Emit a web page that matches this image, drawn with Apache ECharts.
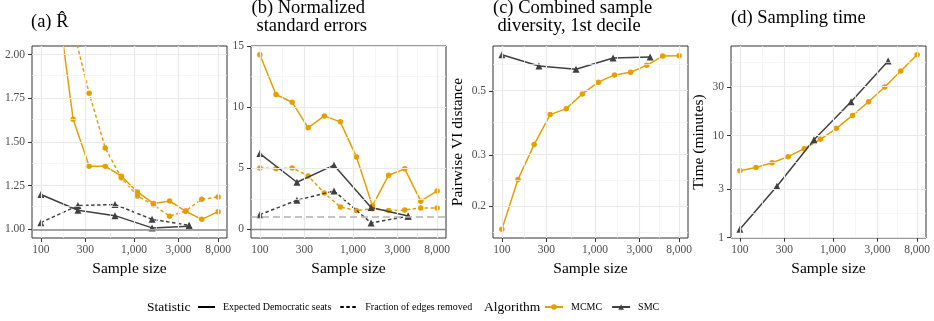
<!DOCTYPE html>
<html><head><meta charset="utf-8">
<script src="https://cdn.jsdelivr.net/npm/echarts@6/dist/echarts.min.js"></script>
<style>html,body{margin:0;padding:0;background:#fff}#c{width:934px;height:321px}</style>
</head><body><div id="c"></div>
<script>
// ---------- data ----------
const mcmcN = [100, 149, 222, 330, 491, 731, 1088, 1619, 2410, 3587, 5338, 8000];
const smcN = [100, 250, 625, 1563, 3906];
const xTicks = [100, 300, 1000, 3000, 8000];

// (a) R-hat
const rhatMcmcSeats = [3.4, 2.33, 1.631, 1.361, 1.361, 1.304, 1.214, 1.147, 1.162, 1.103, 1.057, 1.101];
const rhatMcmcEdges = [3.9, 2.9, 2.15, 1.779, 1.466, 1.295, 1.191, 1.14, 1.075, 1.105, 1.172, 1.185];
const rhatSmcSeats = [1.199, 1.109, 1.078, 1.008, 1.017];
const rhatSmcEdges = [1.038, 1.136, 1.142, 1.057, 1.023];
const rhatTicks = [1.00, 1.25, 1.50, 1.75, 2.00];

// (b) normalized standard errors
const seMcmcSeats = [14.3, 11.04, 10.41, 8.31, 9.29, 8.8, 5.93, 1.91, 4.43, 4.95, 2.30, 3.14];
const seMcmcEdges = [5.03, 4.95, 5.03, 4.37, 2.98, 1.83, 1.53, 1.69, 1.53, 1.58, 1.75, 1.75];
const seSmcSeats = [6.2, 3.85, 5.25, 1.78, 1.09];
const seSmcEdges = [1.2, 2.38, 3.14, 0.52, 1.07];
const seTicks = [0, 5, 10, 15];

// (c) combined sample diversity, 1st decile
const divMcmc = [0.166, 0.247, 0.326, 0.414, 0.434, 0.488, 0.536, 0.568, 0.580, 0.613, 0.660, 0.662];
const divSmc = [0.667, 0.610, 0.594, 0.650, 0.655];
const divTicks = [0.2, 0.3, 0.5];

// (d) sampling time (minutes)
const timeMcmc = [4.54, 4.89, 5.44, 6.23, 7.46, 9.21, 11.8, 15.8, 21.5, 30.0, 43.0, 62.2];
const timeSmc = [1.21, 3.19, 9.14, 21.5, 54.0];
const timeTicks = [1, 3, 10, 30];

// ---------- helpers ----------
const L = Math.log10;
const FONT = "'Liberation Serif','Times New Roman',serif";
const ORANGE = '#E69F00', DARK = '#404040';
const DASH = [3.5, 2.5];
function expand(lo, hi) { const s = hi - lo; return [lo - 0.05 * s, hi + 0.05 * s]; }
function minorBreaks(maj, lim) {
  const b = maj.slice(); const bd = b[1] - b[0];
  if (lim[0] < b[0]) b.unshift(b[0] - bd);
  if (lim[1] > b[b.length - 1]) b.push(b[b.length - 1] + bd);
  const out = [];
  for (let i = 0; i < b.length - 1; i++) { const m = (b[i] + b[i + 1]) / 2; if (m > lim[0] && m < lim[1]) out.push(m); }
  return out;
}
const xLim = expand(L(mcmcN[0]), L(mcmcN[mcmcN.length - 1]));
const xMaj = xTicks.map(L);
const xMin = minorBreaks(xMaj, xLim);
const xFmt = v => Math.round(Math.pow(10, v)).toLocaleString('en-US');

const panels = [
  { left: 32, log: false, lim: [0.95, 2.05], ticks: rhatTicks, fmt: v => v.toFixed(2), name: '',
    lines: [['MCMC', mcmcN, rhatMcmcSeats, false], ['MCMC', mcmcN, rhatMcmcEdges, true],
            ['SMC', smcN, rhatSmcSeats, false], ['SMC', smcN, rhatSmcEdges, true]],
    refs: [{ y: 1, color: '#8a8a8a', width: 1.6, type: 'solid' }] },
  { left: 251, log: false, lim: expand(0, Math.max(...seMcmcSeats)), ticks: seTicks, fmt: v => String(v), name: '',
    lines: [['MCMC', mcmcN, seMcmcSeats, false], ['MCMC', mcmcN, seMcmcEdges, true],
            ['SMC', smcN, seSmcSeats, false], ['SMC', smcN, seSmcEdges, true]],
    refs: [{ y: 0, color: '#8a8a8a', width: 1.3, type: 'solid' }, { y: 1, color: '#b3b3b3', width: 1.5, type: [7, 4] }] },
  { left: 493, log: true, lim: expand(L(Math.min(...divMcmc, ...divSmc)), L(Math.max(...divMcmc, ...divSmc))), ticks: divTicks,
    fmt: v => String(Math.round(Math.pow(10, v) * 10) / 10), name: 'Pairwise VI distance', nameGap: 27,
    lines: [['MCMC', mcmcN, divMcmc, false], ['SMC', smcN, divSmc, false]], refs: [] },
  { left: 731, log: true, lim: expand(L(Math.min(...timeMcmc, ...timeSmc)), L(Math.max(...timeMcmc, ...timeSmc))), ticks: timeTicks,
    fmt: v => String(Math.round(Math.pow(10, v))), name: 'Time (minutes)', nameGap: 24,
    lines: [['MCMC', mcmcN, timeMcmc, false], ['SMC', smcN, timeSmc, false]], refs: [] }
];

const grids = [], xAxes = [], yAxes = [], series = [];
const MAJ = { color: '#e9e9e9', width: 1.2, type: 'solid' };
const MIN = { color: '#f2f2f2', width: 0.7, type: 'solid' };
const tickStyle = { show: true, length: 4, lineStyle: { color: '#333', width: 1 } };

panels.forEach((p, i) => {
  const ty = p.log ? L : (v => v);
  const yMaj = p.ticks.map(ty);
  const yMin = minorBreaks(yMaj, p.lim);
  grids.push({ left: p.left, top: 46, width: 195, height: 192, show: true, borderColor: '#333', borderWidth: 1, backgroundColor: '#fff' });
  xAxes.push({ type: 'value', gridIndex: i, min: xLim[0], max: xLim[1],
    splitLine: { show: false }, axisLine: { show: false },
    axisTick: Object.assign({ customValues: xMaj }, tickStyle),
    axisLabel: { customValues: xMaj, formatter: xFmt, fontFamily: FONT, fontSize: 11.5, color: '#4d4d4d', margin: 6 },
    name: 'Sample size', nameLocation: 'middle', nameGap: 19,
    nameTextStyle: { fontFamily: FONT, fontSize: 15.5, color: '#000' } });
  yAxes.push({ type: 'value', gridIndex: i, min: p.lim[0], max: p.lim[1],
    splitLine: { show: false }, axisLine: { show: false },
    axisTick: Object.assign({ customValues: yMaj }, tickStyle),
    axisLabel: { customValues: yMaj, formatter: p.fmt, fontFamily: FONT, fontSize: 11.5, color: '#4d4d4d', margin: 7 },
    name: p.name, nameLocation: 'middle', nameGap: p.nameGap || 20,
    nameTextStyle: { fontFamily: FONT, fontSize: 15.5, color: '#000' } });
  // panel grid lines
  series.push({ type: 'line', xAxisIndex: i, yAxisIndex: i, data: [], symbol: 'none', silent: true, z: 1, animation: false,
    markLine: { silent: true, symbol: ['none', 'none'], label: { show: false }, animation: false,
      data: [].concat(
        xMin.map(v => ({ xAxis: v, lineStyle: MIN })), yMin.map(v => ({ yAxis: v, lineStyle: MIN })),
        xMaj.map(v => ({ xAxis: v, lineStyle: MAJ })), yMaj.map(v => ({ yAxis: v, lineStyle: MAJ }))) } });
  if (p.refs.length) {
    series.push({ type: 'line', xAxisIndex: i, yAxisIndex: i, data: [], symbol: 'none', silent: true, z: 2, animation: false,
      markLine: { silent: true, symbol: ['none', 'none'], label: { show: false }, animation: false,
        data: p.refs.map(r => ({ yAxis: r.y, lineStyle: { color: r.color, width: r.width, type: r.type } })) } });
  }
  p.lines.forEach(([algo, xs, ys, dashed]) => {
    const col = algo === 'MCMC' ? ORANGE : DARK;
    series.push({ type: 'line', name: algo, xAxisIndex: i, yAxisIndex: i,
      data: xs.map((x, k) => [L(x), ty(ys[k])]),
      symbol: algo === 'MCMC' ? 'circle' : 'triangle', symbolSize: algo === 'MCMC' ? 5.5 : 7,
      lineStyle: { color: col, width: 1.5, type: dashed ? DASH : 'solid' },
      itemStyle: { color: col }, z: algo === 'MCMC' ? 3 : 4, clip: true, animation: false, silent: true });
  });
});
// legend-only series for line type
series.push({ type: 'line', name: 'Expected Democratic seats', xAxisIndex: 0, yAxisIndex: 0, data: [], symbol: 'none',
  lineStyle: { color: '#000', width: 1.5, type: 'solid' }, itemStyle: { color: '#000' } });
series.push({ type: 'line', name: 'Fraction of edges removed', xAxisIndex: 0, yAxisIndex: 0, data: [], symbol: 'none',
  lineStyle: { color: '#000', width: 1.5, type: DASH }, itemStyle: { color: '#000' } });

const TT = { fontFamily: FONT, fontSize: 18.5, fontWeight: 'normal', color: '#000' };
const LT = { fontFamily: FONT, fontSize: 13.5, fontWeight: 'normal', color: '#000' };
const legText = { fontFamily: FONT, fontSize: 10, color: '#000', padding: [0, 0, 0, 3] };

const option = {
  animation: false,
  backgroundColor: '#fff',
  title: [
    { text: '(a) R\u0302', left: 31, top: 13, padding: 0, textStyle: TT },
    { text: '(b) Normalized', left: 251.5, top: -1.5, padding: 0, textStyle: TT },
    { text: 'standard errors', left: 256.5, top: 17, padding: 0, textStyle: TT },
    { text: '(c) Combined sample', left: 493, top: -1.5, padding: 0, textStyle: TT },
    { text: 'diversity, 1st decile', left: 497.5, top: 17, padding: 0, textStyle: TT },
    { text: '(d) Sampling time', left: 731, top: 9, padding: 0, textStyle: TT },
    { text: 'Statistic', left: 147, top: 300, padding: 0, textStyle: LT },
    { text: 'Algorithm', left: 484, top: 300, padding: 0, textStyle: LT }
  ],
  legend: [
    { left: 197, top: 302, padding: 0, itemWidth: 17, itemHeight: 8, itemGap: 8, selectedMode: false,
      data: ['Expected Democratic seats', 'Fraction of edges removed'], textStyle: legText, itemStyle: { opacity: 0 } },
    { left: 544, top: 302, padding: 0, itemWidth: 18, itemHeight: 7, itemGap: 9, selectedMode: false,
      data: ['MCMC', 'SMC'], textStyle: legText }
  ],
  grid: grids, xAxis: xAxes, yAxis: yAxes, series: series
};
const chart = echarts.init(document.getElementById('c'));
chart.setOption(option);
</script></body></html>
